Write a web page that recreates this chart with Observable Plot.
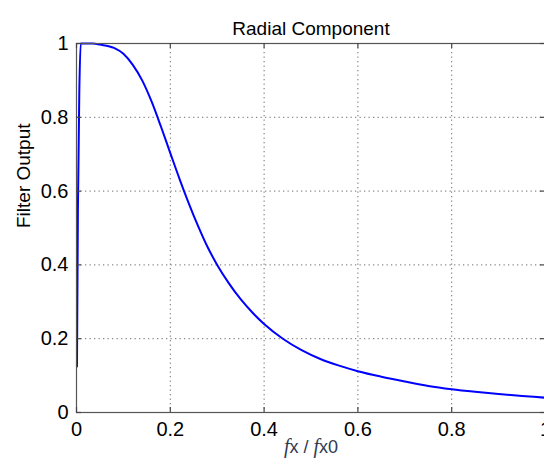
<!DOCTYPE html>
<html>
<head>
<meta charset="utf-8">
<script src="https://cdn.jsdelivr.net/npm/d3@7"></script>
<script src="https://cdn.jsdelivr.net/npm/@observablehq/plot@0.6"></script>
<style>
  html, body { margin: 0; padding: 0; background: #fff; overflow: hidden; }
  #chart svg { display: block; max-width: none; }
</style>
</head>
<body>
<div id="chart"></div>
<script>
// ---- data ----
const fx = [0.001, 0.003, 0.006, 0.009, 0.02, 0.035, 0.05, 0.08, 0.10, 0.12, 0.14, 0.16, 0.18, 0.20, 0.22, 0.24, 0.26, 0.28, 0.30, 0.325, 0.35, 0.375, 0.40, 0.44, 0.48, 0.52, 0.56, 0.60, 0.65, 0.70, 0.75, 0.80, 0.85, 0.90, 0.95, 1.00];
const filterOutput = [0.125, 0.55, 0.87, 1.0, 1.0, 1.0, 0.997, 0.988, 0.972, 0.942, 0.900, 0.843, 0.775, 0.703, 0.632, 0.565, 0.503, 0.447, 0.400, 0.350, 0.307, 0.271, 0.240, 0.200, 0.169, 0.145, 0.127, 0.112, 0.097, 0.084, 0.072, 0.063, 0.056, 0.050, 0.045, 0.040];
const xTicks = [0, 0.2, 0.4, 0.6, 0.8, 1];
const yTicks = [0, 0.2, 0.4, 0.6, 0.8, 1];
const titleText = "Radial Component";
const yLabelText = "Filter Output";
const xLabelParts = [["f", true], ["x / ", false], ["f", true], ["x0", false]];
const xLabelText = xLabelParts.map(p => p[0]).join("");

const data = fx.map((x, i) => ({x, y: filterOutput[i]}));

const W = 544, H = 466;
const mL = 76, mT = 43, mB = 54, mR = -1;
const frameW = W - mR - mL, frameH = H - mT - mB;
const tickLen = 5;
const font = "'Liberation Sans', Arial, Helvetica, sans-serif";

const plot = Plot.plot({
  width: W,
  height: H,
  marginLeft: mL,
  marginTop: mT,
  marginBottom: mB,
  marginRight: mR,
  style: { fontFamily: font, background: "#fff", color: "#000", overflow: "visible" },
  x: { domain: [0, 1], ticks: xTicks },
  y: { domain: [0, 1], ticks: yTicks },
  marks: [
    Plot.gridX(xTicks.slice(1, -1), { stroke: "#6e6e6e", strokeOpacity: 1, strokeDasharray: "1.3,3.2", strokeWidth: 1 }),
    Plot.gridY(yTicks.slice(1, -1), { stroke: "#6e6e6e", strokeOpacity: 1, strokeDasharray: "1.3,3.2", strokeWidth: 1 }),
    Plot.line(data, { x: "x", y: "y", stroke: "#0000ff", strokeWidth: 2, curve: "monotone-x" }),
    Plot.frame({ stroke: "#555", strokeWidth: 1.2 }),
    // inward ticks (MATLAB style)
    Plot.tickX(xTicks, { x: d => d, insetTop: frameH - tickLen, stroke: "#444", strokeWidth: 1.2 }),
    Plot.tickX(xTicks, { x: d => d, insetBottom: frameH - tickLen, stroke: "#444", strokeWidth: 1.2 }),
    Plot.tickY(yTicks, { y: d => d, insetRight: frameW - tickLen, stroke: "#444", strokeWidth: 1.2 }),
    Plot.tickY(yTicks, { y: d => d, insetLeft: frameW - tickLen, stroke: "#444", strokeWidth: 1.2 }),
    Plot.axisX({ ticks: xTicks, tickSize: 0, tickPadding: 9, fontSize: 20, label: null, tickFormat: d => String(d), fill: "#000" }),
    Plot.axisY({ ticks: yTicks, tickSize: 0, tickPadding: 8, fontSize: 20, label: null, tickFormat: d => String(d), fill: "#000" }),
    Plot.text([titleText], { frameAnchor: "top", dy: -22, fontSize: 19, fill: "#000", text: d => d }),
    Plot.text([yLabelText], { frameAnchor: "left", dx: -53, rotate: -90, fontSize: 19, fill: "#000", text: d => d }),
    Plot.text([xLabelText], { frameAnchor: "bottom", dy: 40, fontSize: 18, fill: "#2f3a52", text: d => d })
  ]
});

// rich x label: italic f
for (const t of plot.querySelectorAll("text")) {
  if (t.textContent === xLabelText && !t.closest("[aria-label^='x-axis']")) {
    while (t.firstChild) t.removeChild(t.firstChild);
    for (const [s, ital] of xLabelParts) {
      const ts = document.createElementNS("http://www.w3.org/2000/svg", "tspan");
      ts.textContent = s;
      if (ital) {
        ts.setAttribute("font-style", "italic");
        ts.setAttribute("font-family", "'Liberation Serif', 'Times New Roman', serif");
        ts.setAttribute("font-size", "20");
      }
      t.appendChild(ts);
    }
  }
}

document.getElementById("chart").appendChild(plot);
</script>
</body>
</html>
